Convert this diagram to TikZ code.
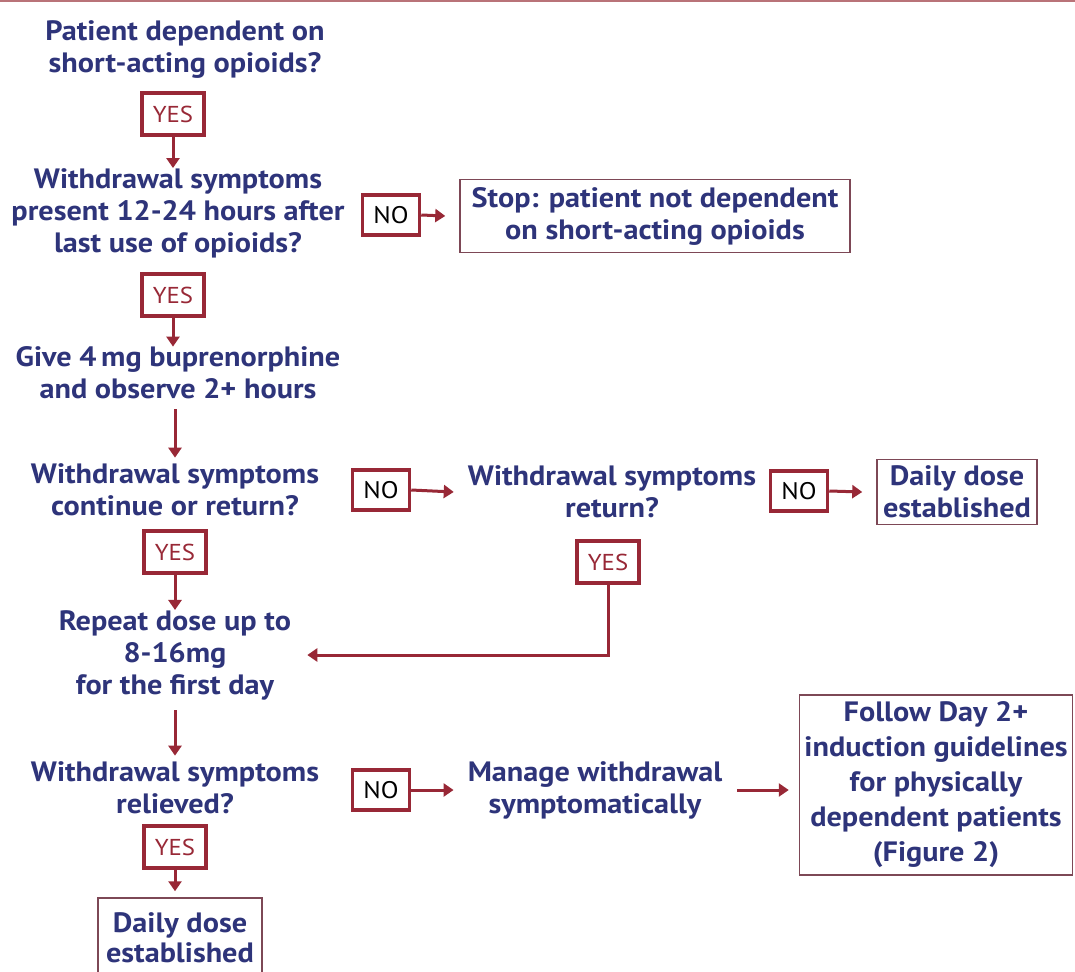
\documentclass[tikz,border=0pt]{standalone}
\usepackage{fontspec}
\setmainfont{PT Sans}[FakeStretch=1.08]
\usetikzlibrary{arrows.meta}
\definecolor{navy}{RGB}{46,52,122}
\definecolor{dred}{RGB}{152,40,54}
\definecolor{boxc}{RGB}{125,72,86}
\definecolor{topc}{RGB}{185,115,120}
\begin{document}
\begin{tikzpicture}[x=1pt,y=-1pt,
  txt/.style={text=navy, font=\bfseries\fontsize{28}{32}\selectfont, align=center, inner sep=0pt},
  yesbox/.style={draw=dred, line width=3.5pt, text=dred, font=\fontsize{23}{23}\selectfont, minimum width=62pt, minimum height=42pt, inner sep=0pt},
  nobox/.style={draw=dred, line width=3.5pt, text=black, font=\fontsize{24}{24}\selectfont, minimum width=57pt, minimum height=40pt, inner sep=0pt},
  endbox/.style={draw=boxc, line width=1.5pt, text=navy, font=\bfseries\fontsize{28}{32}\selectfont, align=center, inner sep=0pt},
  arr/.style={draw=dred, line width=3pt, -{Triangle[width=13pt,length=10pt]}}]
\fill[white] (0,0) rectangle (1075,971);
\useasboundingbox (0,0) rectangle (1075,971);
\draw[topc, line width=2pt] (0,1) -- (1075,1);

% left column
\node[txt] (q1) at (185,50) {Patient dependent on\\short-acting opioids?};
\node[yesbox] (yes1) at (173,114) {YES};
\node[txt] (q2) at (178,213) {Withdrawal symptoms\\present 12-24 hours after\\last use of opioids?};
\node[nobox] (no1) at (391,215) {NO};
\node[endbox, minimum width=390pt, minimum height=73pt] (stop) at (655,216) {Stop: patient not dependent\\on short-acting opioids};
\node[yesbox] (yes2) at (173,295) {YES};
\node[txt] (q3) at (178,373) {Give 4\,mg buprenorphine\\and observe 2+ hours};
\node[txt] (q4) at (175,490) {Withdrawal symptoms\\continue or return?};
\node[nobox] (no2) at (381,490) {NO};
\node[txt] (q5) at (612,492) {Withdrawal symptoms\\return?};
\node[nobox] (no3) at (799,491) {NO};
\node[endbox, minimum width=160pt, minimum height=65pt] (daily1) at (957,492) {Daily dose\\established};
\node[yesbox] (yes3) at (175,552) {YES};
\node[yesbox] (yes4) at (608,562) {YES};
\node[txt] (q6) at (175,655) {Repeat dose up to\\8-16mg\\for the first day};
\node[txt] (q7) at (175,788) {Withdrawal symptoms\\relieved?};
\node[nobox] (no4) at (381,790) {NO};
\node[txt] (q8) at (595,790) {Manage withdrawal\\symptomatically};
\node[endbox, minimum width=273pt, minimum height=180pt, font=\bfseries\fontsize{28}{35}\selectfont] (follow) at (936,785) {Follow Day 2+\\induction guidelines\\for physically\\dependent patients\\(Figure 2)};
\node[yesbox] (yes5) at (175,847) {YES};
\node[endbox, minimum width=164pt, minimum height=80pt, font=\bfseries\fontsize{28}{30}\selectfont] (daily2) at (180,938) {Daily dose\\established};

% connectors
\draw[arr] (yes1.south) -- (yes1.south |- q2.north);
\draw[arr] (no1.east) -- ([xshift=-14pt]stop.west);
\draw[arr] (yes2.south) -- (yes2.south |- q3.north);
\draw[arr, shorten <=10pt, shorten >=6pt] (q3.south -| q4.north) -- (q4.north);
\draw[arr] (no2.east) -- ([xshift=-14pt]q5.west);
\draw[arr] (no3.east) -- ([xshift=-14pt]daily1.west);
\draw[arr] (yes3.south) -- (yes3.south |- q6.north);
\draw[arr] (yes4.south) |- ([xshift=16pt]q6.east);
\draw[arr, shorten <=10pt, shorten >=6pt] (q6.south) -- (q7.north);
\draw[arr] (no4.east) -- ([xshift=-14pt]q8.west);
\draw[arr, shorten <=15pt, shorten >=10pt] (q8.east) -- (q8.east -| follow.west);
\draw[arr, shorten >=6pt] (yes5.south) -- (yes5.south |- daily2.north);
\end{tikzpicture}
\end{document}
